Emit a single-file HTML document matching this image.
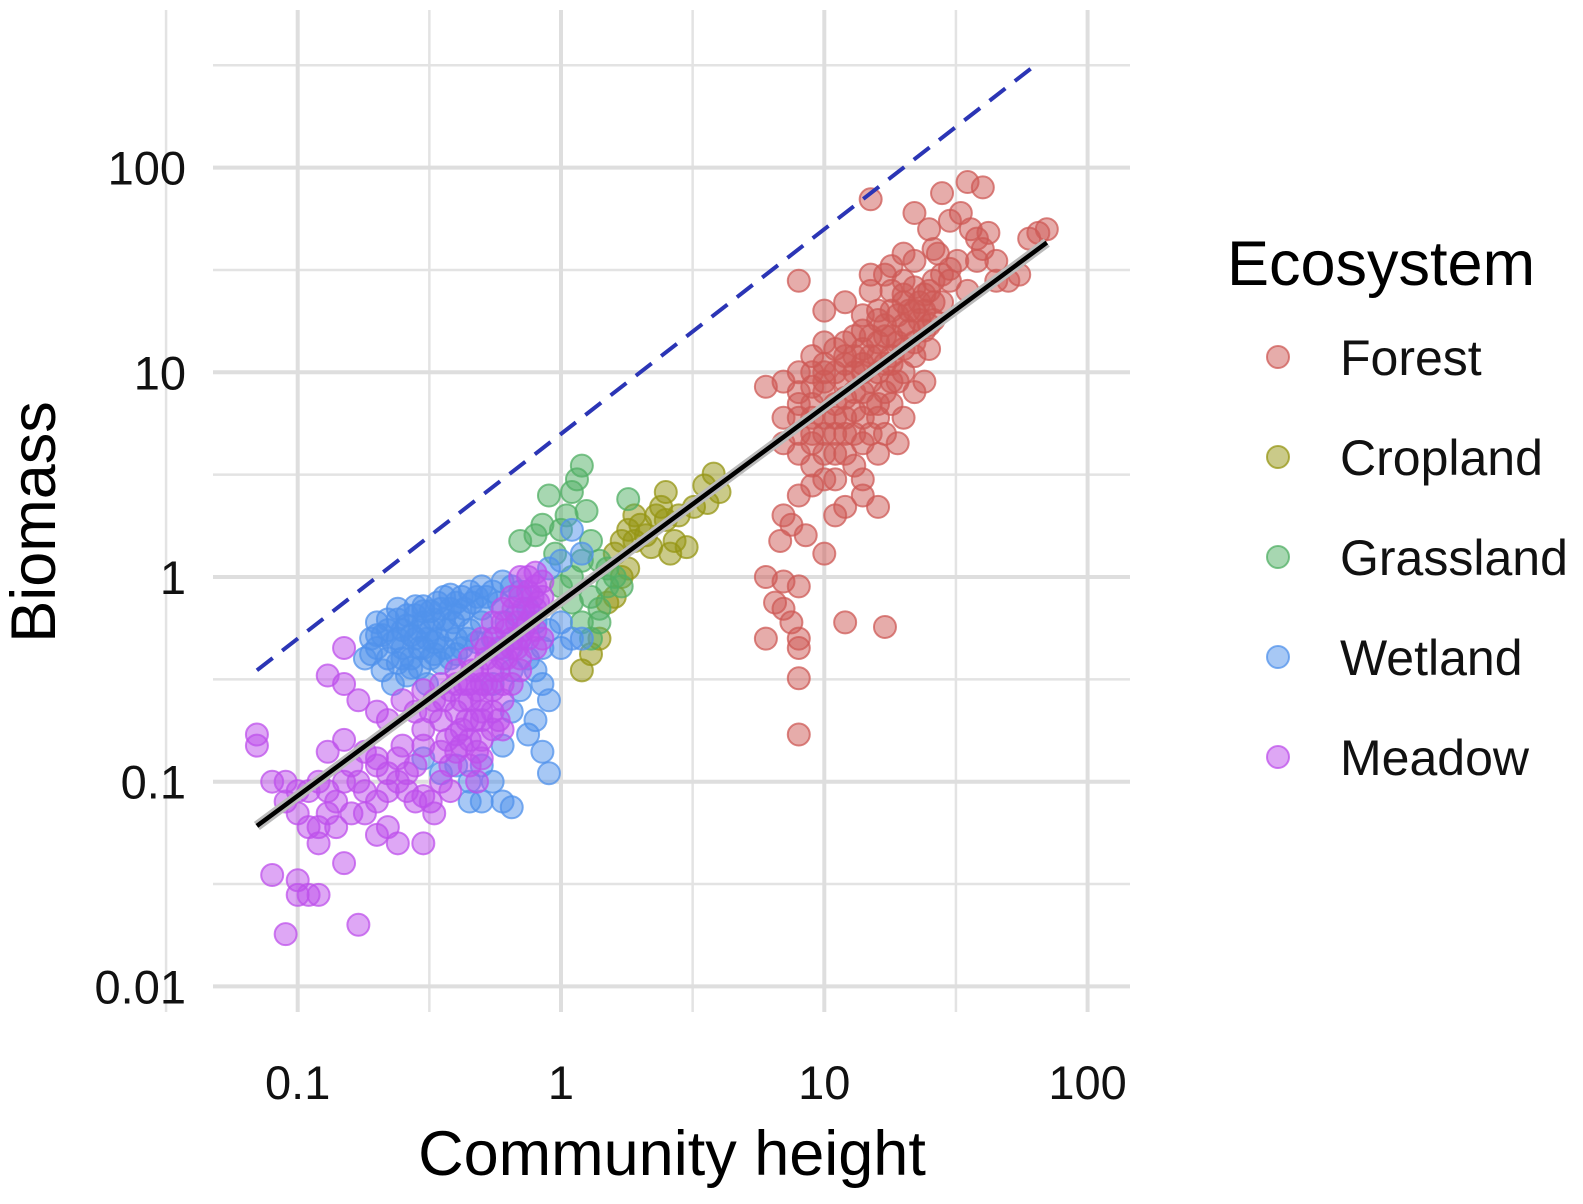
<!DOCTYPE html>
<html><head><meta charset="utf-8"><style>
html,body{margin:0;padding:0;background:#fff;}
svg{display:block;font-family:"Liberation Sans",Arial,sans-serif;}
</style></head><body>
<svg id="chart" width="1583" height="1204" viewBox="0 0 1583 1204" xmlns="http://www.w3.org/2000/svg">
<g id="grid"></g>
<g id="points"></g>
<g id="lines"></g>
<g id="axes"></g>
<text x="672" y="1175" font-size="63" text-anchor="middle" fill="#000">Community height</text>
<text transform="translate(55,522) rotate(-90)" font-size="63" text-anchor="middle" fill="#000">Biomass</text>
<g id="legend">
<text x="1227" y="285" font-size="63" fill="#000">Ecosystem</text>
</g>
</svg>
<script>
const xTicks=[0.1,1,10,100];
const xTickLabels=["0.1","1","10","100"];
const yTicks=[0.01,0.1,1,10,100];
const yTickLabels=["0.01","0.1","1","10","100"];
const seriesNames=["Forest","Cropland","Grassland","Wetland","Meadow"];
const seriesColors=["rgb(205,90,85)","rgb(150,150,20)","rgb(80,175,100)","rgb(80,145,235)","rgb(190,80,235)"];
const forest=[[15,70],[35,85],[40,80],[28,75],[22,60],[30,55],[33,60],[36,50],[38,45],[42,48],[25,50],[20,38],[22,35],[18,33],[27,38],[30,32],[45,35],[50,28],[60,45],[65,48],[70,50],[55,30],[35,25],[28,22],[24,20],[20,22],[18,20],[16,18],[14,19],[15,30],[15,25],[12,22],[10,20],[8,28],[17,15],[19,14],[21,16],[23,18],[25,13],[26,18],[22,12],[18,11],[16,12],[14,13],[13,15],[11,13],[10,11],[9,10],[8,10],[8,8],[9,7],[10,8],[12,9],[13,10],[14,8],[15,9],[16,10],[17,8],[19,9],[20,10],[22,8],[24,9],[18,7],[16,6],[14,6],[12,6],[11,5],[10,6],[9,5],[8,5],[7,6],[7,4.5],[8,4],[9,3.5],[10,4],[12,4],[13,5],[15,5],[17,5],[20,6],[19,4.5],[16,4],[14,3],[11,3],[9,2.8],[8,2.5],[7,2],[7.5,1.8],[8.5,1.6],[10,1.3],[12,2.2],[14,2.5],[16,2.2],[11,2],[6,8.5],[7,9],[13,3.5],[6,1],[7,0.95],[8,0.9],[7,0.7],[6.5,0.75],[7.5,0.6],[8,0.5],[8,0.45],[8,0.32],[8,0.17],[6,0.5],[12,0.6],[17,0.57],[6.8,1.5],
[18,25],[20,28],[22,26],[24,24],[26,22],[19,19],[21,20],[23,22],[25,25],[17,17],[15,15],[13,12],[12,14],[11,10],[10,9],[9,8.5],[11,7],[12,7.5],[13,8],[14,10],[15,12],[16,14],[18,15],[20,17],[22,20],[24,16],[26,28],[28,30],[30,28],[32,35],[20,13],[18,12],[17,11],[15,7],[13,6.5],[11,6],[10,5],[9,4.5],[10,3],[11,4],[12,5],[14,4.5],[16,7],[18,9],[9,6],[8,6],[8,7],[10,10],[12,11],[14,11],[22,14],[25,17],[20,24],[16,20],[14,16],[12,12],[10,14],[9,12],[40,40],[45,28],[38,35],[26,40],[17,30]];
const cropland=[[1.2,0.35],[1.3,0.42],[1.4,0.5],[1.5,0.75],[1.6,0.8],[1.7,1.0],[1.8,1.1],[1.6,1.3],[1.7,1.5],[1.8,1.7],[1.9,2.0],[2.0,1.8],[2.1,1.6],[2.3,2.0],[2.4,2.2],[2.5,1.9],[2.6,1.3],[2.7,1.5],[2.5,2.6],[2.8,2.0],[3.0,1.4],[3.2,2.2],[3.5,2.8],[3.8,3.2],[4.0,2.6],[3.6,2.3],[2.2,1.4],[1.9,1.5]];
const grassland=[[0.7,1.5],[0.8,1.6],[0.9,2.5],[1.0,1.7],[1.05,2.0],[1.1,2.6],[1.15,3.0],[1.2,3.5],[1.25,2.1],[1.3,1.5],[1.4,1.2],[1.5,1.1],[1.6,1.0],[1.2,1.2],[1.1,1.0],[1.3,0.8],[1.4,0.7],[1.5,0.9],[1.7,0.9],[1.8,2.4],[0.95,1.3],[1.0,0.9],[1.2,0.6],[1.3,0.5],[1.4,0.6],[0.85,1.8],[1.1,0.75]];
const wetland=[[0.2,0.6],[0.22,0.55],[0.24,0.62],[0.26,0.58],[0.28,0.65],[0.3,0.6],[0.32,0.55],[0.34,0.5],[0.36,0.62],[0.38,0.7],[0.4,0.75],[0.42,0.8],[0.45,0.85],[0.48,0.8],[0.5,0.9],[0.55,0.85],[0.6,0.95],[0.65,0.9],[0.7,0.85],[0.2,0.45],[0.22,0.4],[0.25,0.45],[0.27,0.4],[0.3,0.45],[0.33,0.42],[0.35,0.38],[0.18,0.4],[0.19,0.5],[0.21,0.35],[0.23,0.3],[0.26,0.33],[0.29,0.36],[0.31,0.3],[0.4,0.5],[0.42,0.45],[0.45,0.55],[0.5,0.6],[0.55,0.5],[0.6,0.45],[0.7,0.5],[0.75,0.4],[0.8,0.35],[0.85,0.3],[0.9,0.25],[0.8,0.2],[0.75,0.17],[0.85,0.14],[0.9,0.11],[1.0,0.45],[1.1,0.5],[1.2,0.5],[1.0,0.6],[0.7,0.28],[0.65,0.22],[0.6,0.15],[0.55,0.1],[0.5,0.08],[0.45,0.08],[0.6,0.08],[0.65,0.075],[0.4,0.12],[0.35,0.11],[0.3,0.13],[0.28,0.5],[0.24,0.7],[0.3,0.72],[0.36,0.8],[0.24,0.5],[0.32,0.68],[0.5,0.7],[1.2,1.3],[1.1,1.7],[0.9,1.1],[1.0,1.2],
[0.21,0.52],[0.23,0.48],[0.25,0.55],[0.27,0.52],[0.29,0.55],[0.31,0.5],[0.33,0.62],[0.35,0.7],[0.37,0.55],[0.39,0.6],[0.41,0.65],[0.43,0.7],[0.46,0.75],[0.52,0.8],[0.58,0.75],[0.26,0.65],[0.28,0.72],[0.3,0.68],[0.34,0.75],[0.38,0.82],[0.22,0.62],[0.2,0.52],[0.19,0.42],[0.24,0.38],[0.27,0.36],[0.32,0.4],[0.36,0.45],[0.4,0.42],[0.44,0.5],[0.48,0.48],[0.38,0.4],[0.33,0.48],[0.29,0.45],[0.25,0.4],[0.62,0.6],[0.68,0.65],[0.75,0.7],[0.8,0.6],[0.9,0.55],[0.85,0.45],[0.65,0.35],[0.55,0.3],[0.5,0.12],[0.45,0.1]];
const meadow=[[0.07,0.17],[0.07,0.15],[0.08,0.1],[0.09,0.08],[0.1,0.09],[0.1,0.07],[0.11,0.06],[0.12,0.05],[0.12,0.06],[0.13,0.07],[0.14,0.08],[0.15,0.1],[0.16,0.12],[0.17,0.1],[0.18,0.09],[0.2,0.08],[0.22,0.06],[0.2,0.055],[0.24,0.05],[0.15,0.04],[0.08,0.035],[0.1,0.033],[0.1,0.028],[0.11,0.028],[0.12,0.028],[0.09,0.018],[0.17,0.02],[0.13,0.14],[0.15,0.16],[0.18,0.14],[0.2,0.12],[0.22,0.11],[0.24,0.1],[0.26,0.09],[0.28,0.08],[0.3,0.085],[0.32,0.08],[0.35,0.1],[0.38,0.12],[0.4,0.14],[0.42,0.15],[0.45,0.12],[0.48,0.1],[0.5,0.13],[0.25,0.15],[0.3,0.18],[0.35,0.2],[0.4,0.22],[0.45,0.25],[0.5,0.3],[0.55,0.35],[0.6,0.4],[0.65,0.45],[0.7,0.5],[0.75,0.6],[0.8,0.7],[0.85,0.8],[0.8,0.9],[0.75,1.0],[0.7,1.0],[0.65,0.8],[0.6,0.7],[0.55,0.6],[0.5,0.5],[0.45,0.4],[0.4,0.35],[0.35,0.3],[0.3,0.28],[0.25,0.25],[0.22,0.2],[0.2,0.22],[0.28,0.22],[0.33,0.25],[0.38,0.28],[0.43,0.3],[0.48,0.35],[0.52,0.4],[0.58,0.45],[0.62,0.55],[0.68,0.6],[0.72,0.7],[0.78,0.8],[0.5,0.2],[0.55,0.22],[0.6,0.25],[0.65,0.3],[0.7,0.35],[0.42,0.18],[0.47,0.2],[0.37,0.16],[0.15,0.3],[0.15,0.45],[0.13,0.33],[0.17,0.25],[0.3,0.05],[0.2,0.13],[0.5,0.16],[0.6,0.18],[0.85,0.5],[0.8,0.45],[0.38,0.09],[0.33,0.07],
[0.4,0.3],[0.42,0.25],[0.45,0.3],[0.48,0.28],[0.5,0.25],[0.52,0.3],[0.55,0.28],[0.58,0.35],[0.6,0.3],[0.62,0.4],[0.65,0.5],[0.68,0.45],[0.7,0.4],[0.72,0.55],[0.75,0.5],[0.78,0.65],[0.8,0.55],[0.82,0.75],[0.7,0.8],[0.66,0.7],[0.6,0.6],[0.56,0.5],[0.52,0.45],[0.46,0.35],[0.44,0.2],[0.5,0.22],[0.55,0.18],[0.58,0.2],[0.36,0.25],[0.32,0.22],[0.3,0.15],[0.28,0.12],[0.26,0.11],[0.24,0.13],[0.22,0.09],[0.18,0.07],[0.16,0.07],[0.14,0.06],[0.13,0.09],[0.12,0.1],[0.11,0.09],[0.09,0.1],[0.35,0.14],[0.4,0.17],[0.45,0.16],[0.48,0.14],[0.75,0.85],[0.85,0.95],[0.8,1.05]];
const fitLineX=[0.07,70];
const fitSlope=0.95, fitIntercept=0.76;   // y = intercept * x^slope
const refLineX=[0.07,65];
const refCoef=5;                           // y = 5x

const NS="http://www.w3.org/2000/svg";
function X(v){return 561+263.3*Math.log10(v);}
function Y(v){return 577-204.7*Math.log10(v);}
function mk(tag,attrs,parent){const e=document.createElementNS(NS,tag);for(const k in attrs)e.setAttribute(k,attrs[k]);parent.appendChild(e);return e;}
const grid=document.getElementById('grid');
const L=213,R=1130,T=10,B=1012;
[-1.5,-0.5,0.5,1.5].forEach(d=>{const v=Math.pow(10,d);const l=mk('line',{x1:X(v),x2:X(v),y1:T,y2:B,stroke:'#e3e3e3','stroke-width':2.5},grid);

});
[-1.5,-0.5,0.5,1.5,2.5].forEach(d=>{const v=Math.pow(10,d);const l=mk('line',{x1:L,x2:R,y1:Y(v),y2:Y(v),stroke:'#e3e3e3','stroke-width':2.5},grid);

});
const axes=document.getElementById('axes');
xTicks.forEach((v,i)=>{const l=mk('line',{x1:X(v),x2:X(v),y1:T,y2:B,stroke:'#dedede','stroke-width':4},grid);


const t=mk('text',{x:X(v),y:1099,'font-size':47,'text-anchor':'middle',fill:'#111'},axes);t.textContent=xTickLabels[i];

});
yTicks.forEach((v,i)=>{const l=mk('line',{x1:L,x2:R,y1:Y(v),y2:Y(v),stroke:'#dedede','stroke-width':4},grid);


const t=mk('text',{x:186,y:Y(v)+17,'font-size':47,'text-anchor':'end',fill:'#111'},axes);t.textContent=yTickLabels[i];

});
const pts=document.getElementById('points');
[forest,cropland,grassland,wetland,meadow].forEach((s,si)=>{
 s.forEach(p=>{const c=mk('circle',{cx:X(p[0]),cy:Y(p[1]),r:11,fill:seriesColors[si],'fill-opacity':0.5,stroke:seriesColors[si],'stroke-opacity':0.75,'stroke-width':2},pts);
 
 });
});
const lines=document.getElementById('lines');
const f0=fitIntercept*Math.pow(fitLineX[0],fitSlope), f1=fitIntercept*Math.pow(fitLineX[1],fitSlope);
const band=mk('line',{x1:X(fitLineX[0]),y1:Y(f0),x2:X(fitLineX[1]),y2:Y(f1),stroke:'#bbb','stroke-width':10},lines);


const fit=mk('line',{x1:X(fitLineX[0]),y1:Y(f0),x2:X(fitLineX[1]),y2:Y(f1),stroke:'#000','stroke-width':4.5},lines);


const ref=mk('line',{x1:X(refLineX[0]),y1:Y(refCoef*refLineX[0]),x2:X(refLineX[1]),y2:Y(refCoef*refLineX[1]),stroke:'#2b35b5','stroke-width':4,'stroke-dasharray':'20 12'},lines);


const leg=document.getElementById('legend');
seriesNames.forEach((n,i)=>{const y=357+i*100;
 const c=mk('circle',{cx:1278,cy:y,r:11,fill:seriesColors[i],'fill-opacity':0.5,stroke:seriesColors[i],'stroke-opacity':0.75,'stroke-width':2},leg);
 
 
 const t=mk('text',{x:1340,y:y+18,'font-size':50,fill:'#111'},leg);t.textContent=n;
 
 });
</script>
</body></html>
